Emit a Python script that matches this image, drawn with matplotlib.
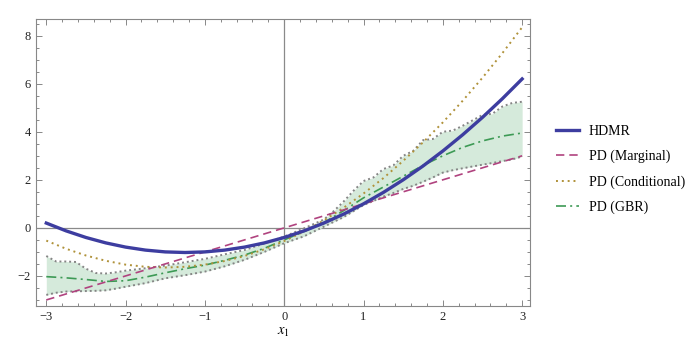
import matplotlib
matplotlib.use("Agg")
import matplotlib.pyplot as plt
from matplotlib.ticker import MultipleLocator, FixedLocator

plt.rcParams['font.family'] = ['Liberation Serif', 'DejaVu Serif']
plt.rcParams['mathtext.fontset'] = 'stix'

# ---- data ----
x_vals = [-3.0, -2.75, -2.5, -2.25, -2.0, -1.75, -1.5, -1.25, -1.0, -0.75, -0.5, -0.25,
          0.0, 0.25, 0.5, 0.75, 1.0, 1.25, 1.5, 1.75, 2.0, 2.25, 2.5, 2.75, 3.0]
hdmr = [0.2, -0.125, -0.4, -0.625, -0.8, -0.925, -1.0, -1.025, -1.0, -0.925, -0.8, -0.625,
        -0.4, -0.125, 0.2, 0.575, 1.0, 1.475, 2.0, 2.575, 3.2, 3.875, 4.6, 5.375, 6.2]
pd_marginal = [-3.0, -2.75, -2.5, -2.25, -2.0, -1.75, -1.5, -1.25, -1.0, -0.75, -0.5, -0.25,
               0.0, 0.25, 0.5, 0.75, 1.0, 1.25, 1.5, 1.75, 2.0, 2.25, 2.5, 2.75, 3.0]
pd_conditional = [-0.53, -0.87, -1.15, -1.37, -1.53, -1.62, -1.65, -1.62, -1.53, -1.38, -1.17, -0.89,
                  -0.55, -0.15, 0.31, 0.84, 1.43, 2.07, 2.79, 3.56, 4.39, 5.29, 6.25, 7.27, 8.35]
pd_gbr = [-2.03, -2.08, -2.15, -2.23, -2.2, -2.05, -1.87, -1.7, -1.55, -1.35, -1.13, -0.85,
          -0.5, -0.15, 0.22, 0.72, 1.25, 1.7, 2.15, 2.6, 3.0, 3.35, 3.62, 3.82, 3.95]

x_band = [-3.0, -2.875, -2.75, -2.625, -2.5, -2.375, -2.25, -2.125, -2.0, -1.75, -1.5, -1.25,
          -1.0, -0.75, -0.5, -0.25, 0.0, 0.25, 0.5, 0.625, 0.75, 0.875, 1.0, 1.125, 1.25,
          1.375, 1.5, 1.625, 1.75, 1.875, 2.0, 2.125, 2.25, 2.5, 2.625, 2.75, 2.875, 3.0]
band_upper = [-1.17, -1.4, -1.4, -1.42, -1.7, -1.88, -1.9, -1.85, -1.78, -1.68, -1.57, -1.43,
              -1.29, -1.1, -0.92, -0.65, -0.36, -0.02, 0.35, 0.7, 1.1, 1.55, 1.95, 2.1, 2.45,
              2.6, 3.0, 3.2, 3.65, 3.7, 4.0, 4.05, 4.25, 4.7, 4.75, 5.05, 5.2, 5.25]
band_lower = [-2.79, -2.7, -2.65, -2.64, -2.63, -2.62, -2.6, -2.53, -2.45, -2.3, -2.1, -1.97,
              -1.82, -1.6, -1.33, -1.0, -0.64, -0.35, 0.05, 0.25, 0.45, 0.7, 0.95, 1.12, 1.3,
              1.45, 1.62, 1.75, 1.92, 2.1, 2.3, 2.4, 2.48, 2.63, 2.7, 2.78, 2.85, 2.97]

labels = ['HDMR', 'PD (Marginal)', 'PD (Conditional)', 'PD (GBR)']
x_ticks = [-3, -2, -1, 0, 1, 2, 3]
y_ticks = [-2, 0, 2, 4, 6, 8]

c_blue = '#3d3da0'
c_pink = '#b0437f'
c_gold = '#b0923a'
c_green = '#3d9a55'

fig = plt.figure(figsize=(6.92, 3.43), dpi=100)
ax = fig.add_axes([0.052, 0.108, 0.714, 0.837])

ax.axhline(0, color='#8a8a8a', lw=0.9, zorder=1)
ax.axvline(0, color='#8a8a8a', lw=0.9, zorder=1)

ax.fill_between(x_band, band_lower, band_upper, color='#d5eadb', lw=0, zorder=2)
ax.plot(x_band, band_upper, color='#858585', lw=1.4, ls=(0, (1, 1.5)), zorder=3)
ax.plot(x_band, band_lower, color='#858585', lw=1.4, ls=(0, (1, 1.5)), zorder=3)

l_gbr, = ax.plot(x_vals, pd_gbr, color=c_green, lw=1.2, ls=(0, (6, 2.5, 1.2, 2.5)), zorder=4)
l_cond, = ax.plot(x_vals, pd_conditional, color=c_gold, lw=1.4, ls=(0, (1, 2)), zorder=4)
l_marg, = ax.plot(x_vals, pd_marginal, color=c_pink, lw=1.2, ls=(0, (5, 3)), zorder=4)
l_hdmr, = ax.plot(x_vals, hdmr, color=c_blue, lw=2.4, zorder=5)

ax.set_xlim(-3.13, 3.1)
ax.set_ylim(-3.25, 8.7)

ax.xaxis.set_major_locator(FixedLocator(x_ticks))
ax.yaxis.set_major_locator(FixedLocator(y_ticks))
ax.xaxis.set_minor_locator(MultipleLocator(0.2))
ax.yaxis.set_minor_locator(MultipleLocator(0.5))
ax.set_xticklabels([str(v).replace('-', '\u2212') for v in x_ticks])
ax.set_yticklabels([str(v).replace('-', '\u2212') for v in y_ticks])
ax.tick_params(which='both', direction='in', top=True, right=True, colors='#888888',
               labelcolor='#222222', labelsize=9, width=0.7)
ax.tick_params(which='major', length=4)
ax.tick_params(which='minor', length=2)
for s in ax.spines.values():
    s.set_color('#888888')
    s.set_linewidth(0.8)

ax.set_xlabel('$x_1$', fontsize=10.5, labelpad=2)

handles = [l_hdmr, l_marg, l_cond, l_gbr]
fig.legend(handles, labels, loc='center left', bbox_to_anchor=(0.803, 0.506),
           frameon=False, fontsize=10, handlelength=1.65, labelspacing=0.86,
           handletextpad=0.75, borderpad=0.0, borderaxespad=0.0)

fig.savefig('out.png', dpi=100)
